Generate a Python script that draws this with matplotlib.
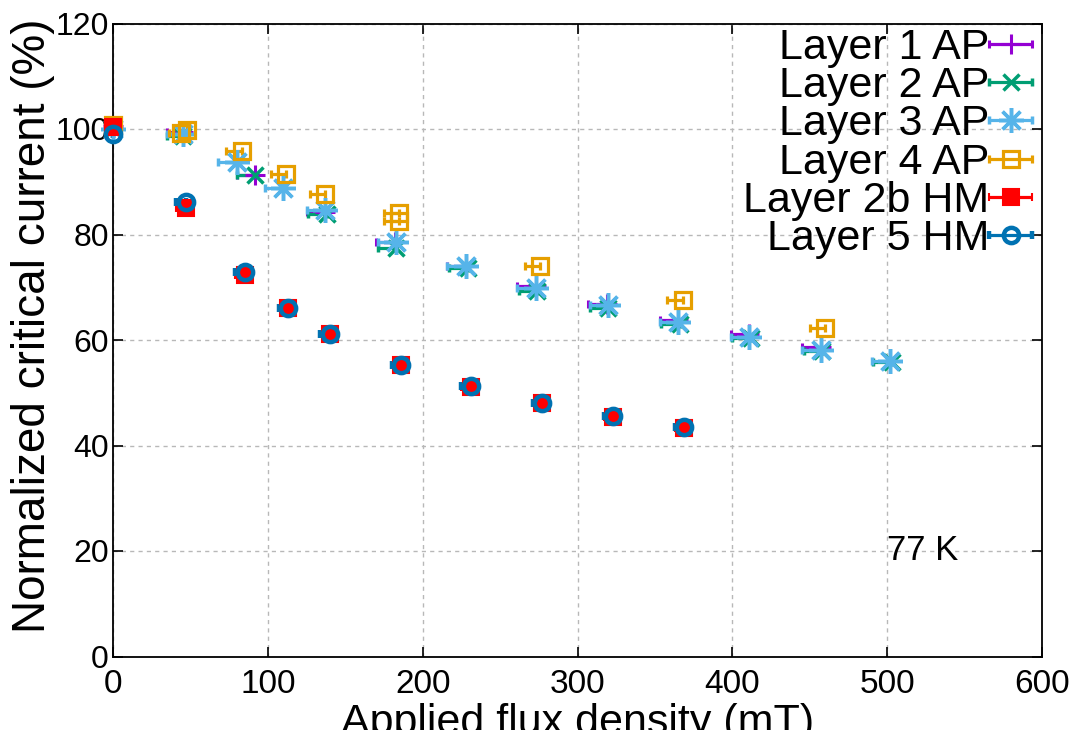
import matplotlib
matplotlib.use("Agg")
import matplotlib.pyplot as plt

# ---------------- data ----------------
l1_x = [0, 45, 92, 137, 182, 228, 273, 319, 365, 411, 457]
l1_y = [100.5, 99.5, 91.3, 84.3, 78.6, 74.0, 70.3, 66.9, 63.8, 61.1, 58.7]
l1_err = [0, 10, 12, 12, 12, 12, 12, 12, 12, 12, 12]

l2_x = [0, 45, 92, 138, 183, 229, 274, 320, 366, 412, 458, 503]
l2_y = [100.0, 98.7, 91.2, 83.8, 77.5, 73.6, 69.2, 66.1, 63.0, 60.3, 58.0, 55.8]
l2_err = [0, 10, 12, 12, 12, 12, 12, 12, 12, 12, 12, 12]

l3_x = [0, 45, 80, 110, 137, 183, 228, 273, 320, 365, 411, 457, 502]
l3_y = [100.0, 99.0, 93.8, 88.9, 84.6, 78.6, 74.0, 69.8, 66.6, 63.4, 60.6, 58.1, 56.0]
l3_err = [0, 10, 12, 12, 12, 12, 12, 12, 12, 12, 12, 12, 12]

l4_x = [0, 44, 48, 83, 112, 137, 185, 185, 276, 368, 460]
l4_y = [100.8, 99.3, 99.8, 95.9, 91.4, 87.6, 84.1, 82.5, 74.0, 67.5, 62.3]
l4_err = [0, 8, 8, 10, 10, 10, 10, 10, 10, 10, 10]

hm2b_x = [0, 47, 85, 113, 140, 186, 231, 277, 323, 369]
hm2b_y = [100.3, 85.0, 72.3, 66.0, 61.1, 55.2, 51.1, 48.0, 45.4, 43.4]
hm2b_err = [0, 6, 6, 6, 6, 6, 6, 6, 6, 6]

hm5_x = [0, 47, 85, 113, 140, 186, 231, 277, 323, 369]
hm5_y = [99.0, 86.2, 72.8, 66.1, 61.2, 55.3, 51.2, 48.1, 45.5, 43.5]
hm5_err = [0, 6, 6, 6, 6, 6, 6, 6, 6, 6]

labels = ["Layer 1 AP", "Layer 2 AP", "Layer 3 AP", "Layer 4 AP",
          "Layer 2b HM", "Layer 5 HM"]
x_ticks = [0, 100, 200, 300, 400, 500, 600]
y_ticks = [0, 20, 40, 60, 80, 100, 120]

# ---------------- style ----------------
plt.rcParams['font.family'] = ['Liberation Sans', 'DejaVu Sans']

fig = plt.figure(figsize=(10.76, 7.30), dpi=100)
ax = fig.add_axes([113/1076, 1-656.5/730, (1042-113)/1076, (656.5-23.5)/730])

series = [
    (l1_x, l1_y, l1_err, '#9400D3', '+', 15, 2.2, 'none'),
    (l2_x, l2_y, l2_err, '#009E73', 'x', 12, 2.5, 'none'),
    (l3_x, l3_y, l3_err, '#56B4E9', (8, 2, 0), 18, 2.5, 'none'),
    (l4_x, l4_y, l4_err, '#E69F00', 's', 12, 2.3, 'none'),
    (hm2b_x, hm2b_y, hm2b_err, '#FF0000', 's', 11, 1.5, '#FF0000'),
    (hm5_x, hm5_y, hm5_err, '#0072B2', 'o', 11, 3.2, 'none'),
]

handles = []
for (xs, ys, err, c, m, ms, mew, mfc), lab in zip(series, labels):
    h = ax.errorbar(xs, ys, xerr=[err, [0]*len(err)], fmt='', marker=m,
                    linestyle='none', color=c,
                    ms=ms, mew=mew, mfc=mfc, mec=c, ecolor=c, elinewidth=2.3,
                    capsize=3, capthick=2, label=lab, zorder=3, clip_on=False)
    handles.append(h)

ax.set_xlim(0, 600)
ax.set_ylim(0, 120)
ax.set_xticks(x_ticks)
ax.set_yticks(y_ticks)
ax.set_xticklabels([str(v) for v in x_ticks], fontsize=24)
ax.set_yticklabels([str(v) for v in y_ticks], fontsize=23)
ax.tick_params(direction='in', length=7, width=1.2, top=True, right=True)
ax.tick_params(axis='x', pad=9)
ax.tick_params(axis='y', pad=3)
for s in ax.spines.values():
    s.set_linewidth(1.3)
ax.grid(True, color='#b8b8b8', linestyle=(0, (3, 3)), linewidth=1.0)
ax.set_axisbelow(True)

ax.set_xlabel("Applied flux density (mT)", fontsize=31, labelpad=2)
ax.set_ylabel("Normalized critical current (%)", fontsize=33, labelpad=0)
ax.yaxis.label.set_y(0.522)

ax.text(500, 20, "77 K", fontsize=25, ha='left', va='center')

leg = ax.legend(handles=handles, labels=labels, loc='upper right',
                bbox_to_anchor=(1.0 - 10/929, 1.0), frameon=False, fontsize=31,
                markerfirst=False, handlelength=0.78, handletextpad=0.12,
                labelspacing=-0.04, borderaxespad=0.0, borderpad=0.1)

fig.savefig("out.png", dpi=100)
